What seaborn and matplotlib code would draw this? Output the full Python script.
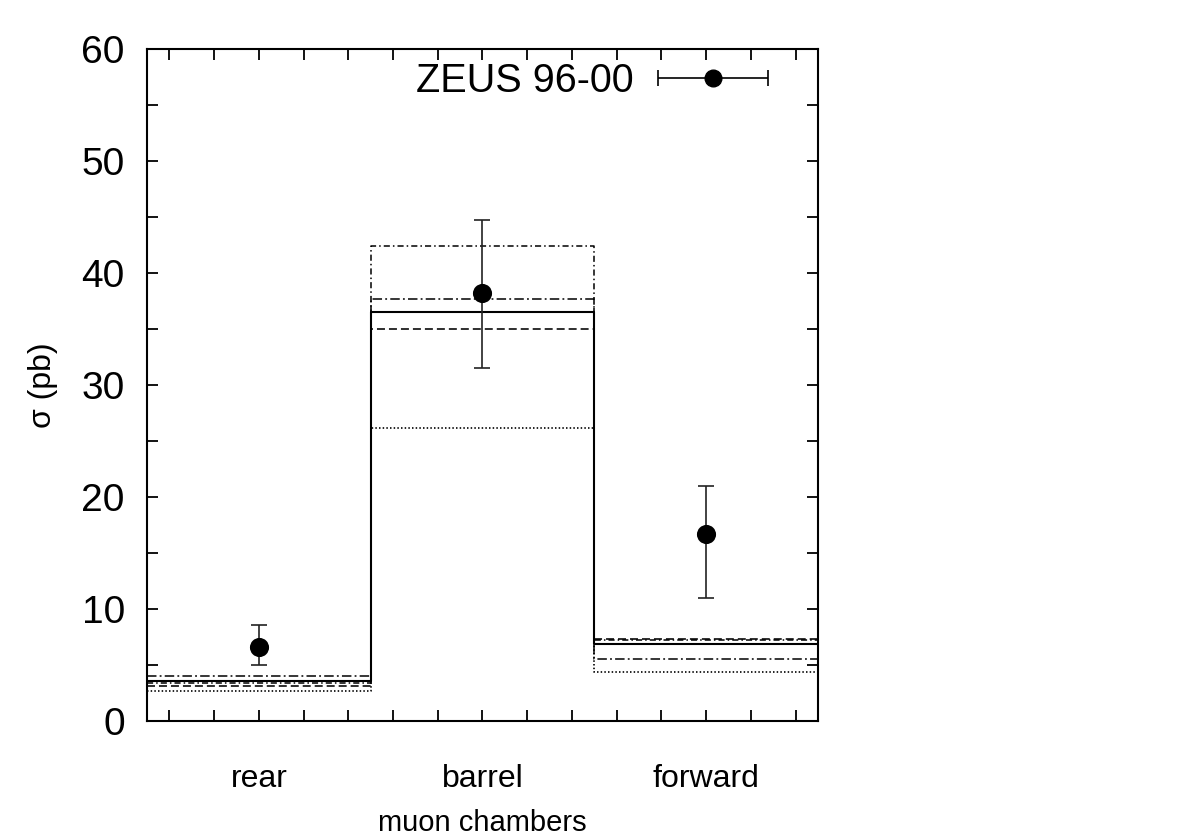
import numpy as np
import pandas as pd
import matplotlib
matplotlib.use("Agg")
import matplotlib.pyplot as plt
from matplotlib.ticker import MultipleLocator, FixedLocator
from matplotlib.legend_handler import HandlerErrorbar
import seaborn as sns

# ---------------- data ----------------
categories = ["rear", "barrel", "forward"]
positions = [0, 1, 2]
bin_edges = [-0.5, 0.5, 1.5, 2.5]

# ZEUS 96-00 measurement
data_sigma = [6.6, 38.2, 16.7]
data_err_up = [1.95, 6.5, 4.3]
data_err_down = [1.6, 6.7, 5.75]

# theory / MC predictions (step histograms)
pred_solid = [3.57, 36.55, 6.9]
pred_dashed = [3.1, 35.0, 7.3]
pred_dotted = [2.7, 26.2, 4.4]
pred_dashdot_long = [4.0, 37.7, 5.5]
pred_dashdot_short = [3.35, 42.4, 7.2]

y_ticks = [0, 10, 20, 30, 40, 50, 60]

# ---------------- style ----------------
sns.set_style("ticks")
plt.rcParams["font.family"] = ["Liberation Sans", "DejaVu Sans"]
plt.rcParams["axes.linewidth"] = 1.5
for key in ("text.color", "axes.labelcolor", "xtick.color", "ytick.color", "axes.edgecolor"):
    plt.rcParams[key] = "black"

fig = plt.figure(figsize=(11.99, 8.40), dpi=100)
ax = fig.add_axes([147 / 1199, 1 - 721 / 840, (818 - 147) / 1199, (721 - 49) / 840])

preds = [
    (pred_dotted, dict(linestyle=(0, (0.9, 1.3)), linewidth=1.2)),
    (pred_dashed, dict(linestyle=(0, (5.0, 2.5)), linewidth=1.15)),
    (pred_dashdot_short, dict(linestyle=(0, (4.0, 2.0, 1.0, 2.0)), linewidth=1.1)),
    (pred_dashdot_long, dict(linestyle=(0, (6.2, 2.1, 1.2, 2.1)), linewidth=1.1)),
    (pred_solid, dict(linestyle="-", linewidth=1.5)),
]
for vals, kw in preds:
    df = pd.DataFrame({"pos": positions, "val": vals})
    sns.histplot(data=df, x="pos", weights="val", bins=bin_edges, element="step",
                 fill=False, color="black", ax=ax, **kw)

# data points
df_data = pd.DataFrame({"pos": positions, "sigma": data_sigma})
ax.errorbar(positions, data_sigma, yerr=[data_err_down, data_err_up], fmt="none",
            ecolor="#222222", elinewidth=1.2, capsize=6, capthick=1.2, zorder=5)
sns.scatterplot(data=df_data, x="pos", y="sigma", color="black", s=190,
                edgecolor="black", linewidth=0, ax=ax, zorder=6, legend=False)

# legend handle (horizontal error bar sample)
h = ax.errorbar([np.nan], [np.nan], xerr=[1.0], fmt="o", color="black", ms=12,
                elinewidth=1.2, capsize=6, capthick=1.2, label="ZEUS 96-00")
leg = ax.legend(handles=[h], labels=["ZEUS 96-00"], loc="center right",
                bbox_to_anchor=(768 / 1199, 1 - 81 / 840), bbox_transform=fig.transFigure,
                frameon=False, markerfirst=False, fontsize=28.5, handlelength=2.8,
                handletextpad=0.6, borderpad=0, borderaxespad=0,
                handler_map={type(h): HandlerErrorbar(xerr_size=1.39)})

# axes
ax.set_xlim(-0.5, 2.5)
ax.set_ylim(0, 60)
ax.set_xticks(positions)
ax.set_xticklabels(categories)
ax.xaxis.set_minor_locator(FixedLocator([p + d for p in positions for d in (-0.4, -0.2, 0.2, 0.4)]))
ax.set_yticks(y_ticks)
ax.yaxis.set_minor_locator(MultipleLocator(5))
ax.tick_params(axis="both", which="both", direction="in", top=True, right=True,
               length=8, width=1.3, color="black")
ax.tick_params(axis="y", which="major", labelsize=28, pad=16)
ax.tick_params(axis="x", which="major", labelsize=23, pad=31)
for s in ax.spines.values():
    s.set_visible(True)
    s.set_color("black")
ax.set_xlabel("muon chambers", fontsize=21, labelpad=11)
ax.set_ylabel("σ (pb)", fontsize=23, labelpad=17)

fig.savefig("out.png", dpi=100, facecolor="white")
